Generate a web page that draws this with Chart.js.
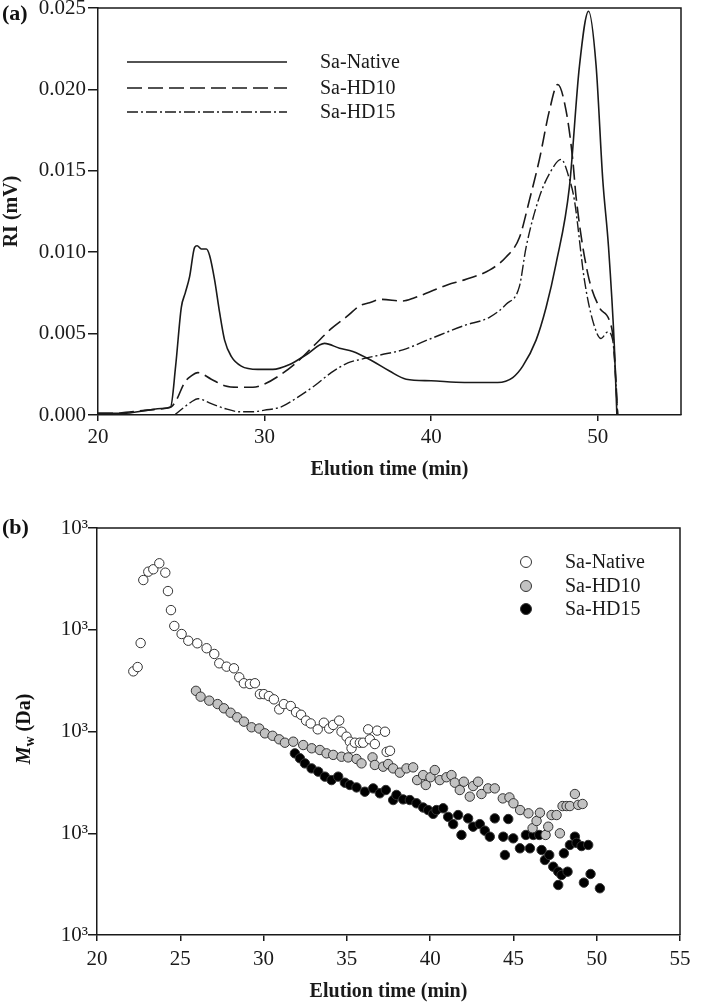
<!DOCTYPE html>
<html>
<head>
<meta charset="utf-8">
<script src="https://cdn.jsdelivr.net/npm/chart.js@4.4.1/dist/chart.umd.min.js"></script>
<style>
  html,body{margin:0;padding:0;background:#fff;}
  body{width:706px;height:1004px;position:relative;overflow:hidden;font-family:'Liberation Serif','Times New Roman',serif;color:#111;}
  .wrap{position:absolute;left:0;width:706px;}
  .panel{position:absolute;left:2px;font:bold 22px 'Liberation Serif','Times New Roman',serif;line-height:24px;}
  #ytb{position:absolute;left:25px;top:729px;transform:translate(-50%,-50%) rotate(-90deg);white-space:nowrap;font:bold 20px 'Liberation Serif','Times New Roman',serif;}
  #ytb sub{font-size:14px;vertical-align:-4px;}
</style>
</head>
<body>
<div class="wrap" style="top:0;height:490px;"><canvas id="ca"></canvas></div>
<div class="wrap" style="top:490px;height:514px;"><canvas id="cb"></canvas></div>
<div class="panel" style="top:1px;">(a)</div>
<div class="panel" style="top:515px;">(b)</div>
<div id="ytb"><i>M</i><sub>w</sub> (Da)</div>
<script>
// ---------- Panel (a): RI chromatograms ----------
const seriesNamesA = ['Sa-Native', 'Sa-HD10', 'Sa-HD15'];
const xTicksA = [20, 30, 40, 50];
const yTicksA = [0, 0.005, 0.010, 0.015, 0.020, 0.025];

const timeNative = [20, 21.5, 23, 23.8, 24.36, 24.66, 25.0, 25.24, 25.5, 25.8, 25.95, 26.2, 26.5, 26.7, 27.0, 27.3, 27.6, 28.0, 28.6, 29.6, 30.5, 31.5, 32.5, 33.6, 34.5, 35.3, 36.5, 37.5, 38.5, 40, 42, 44, 44.9, 45.5, 46.3, 46.9, 47.5, 48.3, 48.9, 49.45, 49.9, 50.3, 50.65, 51.0, 51.15];
const riNative   = [0.0001, 0.0001, 0.0003, 0.0004, 0.0005, 0.0030, 0.0066, 0.0075, 0.0085, 0.0103, 0.0104, 0.0102, 0.0102, 0.0098, 0.0083, 0.0063, 0.0046, 0.0036, 0.0030, 0.0028, 0.0028, 0.0031, 0.0037, 0.0044, 0.0041, 0.0039, 0.0033, 0.0027, 0.0022, 0.0021, 0.0020, 0.0020, 0.0023, 0.0030, 0.0046, 0.0066, 0.0093, 0.0140, 0.0214, 0.0248, 0.0215, 0.0145, 0.0103, 0.0042, 0.0000];

const timeHD10 = [20, 21, 22, 23, 24, 24.4, 24.7, 25.2, 25.6, 26.0, 26.8, 27.6, 28.5, 29.3, 30.0, 31.0, 32.0, 33.0, 34.0, 35.0, 35.7, 36.3, 37.0, 38.3, 39.0, 40.0, 41.0, 42.0, 43.5, 44.5, 45.3, 45.9, 46.5, 47.1, 47.6, 48.1, 48.5, 48.7, 49.4, 50.1, 50.7, 50.95, 51.2];
const riHD10   = [0.0001, 0.0001, 0.0002, 0.0003, 0.0004, 0.0005, 0.0009, 0.0020, 0.0024, 0.0026, 0.0022, 0.0018, 0.0017, 0.0017, 0.0019, 0.0025, 0.0033, 0.0043, 0.0053, 0.0061, 0.0067, 0.0069, 0.0071, 0.0070, 0.0072, 0.0076, 0.0080, 0.0083, 0.0089, 0.0097, 0.0109, 0.0132, 0.0157, 0.0187, 0.0203, 0.0187, 0.0157, 0.0134, 0.0087, 0.0066, 0.0058, 0.0045, 0.0000];

const timeHD15 = [24.6, 25.2, 25.6, 26.0, 26.8, 27.6, 28.5, 29.3, 30.0, 31.0, 32.0, 33.0, 34.0, 35.0, 35.7, 37.0, 38.3, 40.0, 42.0, 43.5, 44.5, 45.3, 45.7, 46.5, 47.2, 47.8, 48.3, 48.6, 49.2, 49.7, 50.2, 50.6, 50.9, 51.2];
const riHD15   = [0.0000, 0.0005, 0.0008, 0.0010, 0.0007, 0.0004, 0.0002, 0.0002, 0.0003, 0.0005, 0.0011, 0.0018, 0.0026, 0.0032, 0.0034, 0.0037, 0.0040, 0.0047, 0.0055, 0.0060, 0.0068, 0.0079, 0.0103, 0.0134, 0.0150, 0.0157, 0.0145, 0.0132, 0.0083, 0.0058, 0.0047, 0.0051, 0.0046, 0.0000];

// ---------- Panel (b): Mw vs elution time ----------
const seriesNamesB = ['Sa-Native', 'Sa-HD10', 'Sa-HD15'];
const xTicksB = [20, 25, 30, 35, 40, 45, 50, 55];
const yTicksB = [1e3, 1e4, 1e5, 1e6, 1e7];
const yTickLabelsB = ['10³', '10³', '10³', '10³', '10³'];

const mwTimeNative = [22.18, 22.44, 22.62, 22.78, 23.08, 23.38, 23.74, 24.10, 24.26, 24.44, 24.64, 25.08, 25.48, 26.02, 26.58, 27.04, 27.34, 27.78, 28.22, 28.54, 28.82, 29.18, 29.48, 29.78, 30.02, 30.32, 30.62, 30.94, 31.22, 31.63, 31.95, 32.25, 32.55, 32.83, 33.25, 33.62, 33.94, 34.18, 34.54, 34.68, 34.98, 35.18, 35.28, 35.48, 35.78, 35.98, 36.28, 36.38, 36.68, 36.82, 37.29, 37.39, 37.59];
const mwNative     = [390000, 430000, 740000, 3080000, 3720000, 3930000, 4500000, 3640000, 2400000, 1560000, 1090000, 908000, 780000, 736000, 658000, 578000, 468000, 434000, 418000, 341000, 298000, 293000, 298000, 233000, 233000, 223000, 207000, 165000, 186000, 178000, 155000, 146000, 128000, 120000, 105000, 122000, 107000, 116000, 128000, 99500, 89000, 79400, 68400, 77600, 77600, 77600, 105000, 83800, 75300, 102000, 99500, 63100, 64600];

const mwTimeHD10 = [25.94, 26.22, 26.74, 27.24, 27.62, 28.02, 28.42, 28.82, 29.28, 29.74, 30.08, 30.54, 30.94, 31.28, 31.78, 32.38, 32.89, 33.38, 33.78, 34.18, 34.68, 35.08, 35.58, 35.88, 36.54, 36.68, 37.18, 37.48, 37.78, 38.18, 38.58, 38.98, 39.22, 39.58, 39.74, 40.02, 40.28, 40.58, 40.98, 41.28, 41.48, 41.78, 42.02, 42.38, 42.58, 42.88, 43.08, 43.48, 43.88, 44.36, 44.76, 45.0, 45.4, 45.9, 46.15, 46.39, 46.59, 46.93, 47.09, 47.29, 47.59, 47.79, 47.95, 48.19, 48.39, 48.69, 48.89, 49.15];
const mwHD10     = [251000, 220000, 201000, 186000, 169000, 153000, 138000, 125000, 110000, 107000, 95900, 90800, 83800, 77600, 79400, 73600, 68400, 65800, 61000, 58900, 56500, 55600, 53700, 48600, 55700, 46900, 45100, 47900, 43400, 39400, 43400, 44400, 33300, 37300, 29800, 35500, 41800, 33300, 35500, 37300, 31400, 26600, 32100, 22900, 29100, 32100, 24300, 27600, 27600, 22000, 22500, 19700, 16900, 15700, 11200, 13200, 15900, 9620, 11600, 15100, 15100, 9980, 18500, 18500, 18500, 24300, 19000, 19400];

const mwTimeHD15 = [31.88, 32.18, 32.48, 32.88, 33.28, 33.68, 34.08, 34.48, 34.88, 35.18, 35.58, 36.08, 36.58, 36.98, 37.34, 37.78, 37.98, 38.38, 38.78, 39.18, 39.58, 39.88, 40.18, 40.38, 40.78, 41.08, 41.38, 41.68, 41.88, 42.28, 42.58, 42.98, 43.28, 43.58, 43.88, 44.39, 44.49, 44.69, 44.99, 45.39, 45.75, 45.99, 46.19, 46.55, 46.69, 46.89, 47.15, 47.39, 47.69, 47.69, 47.89, 48.03, 48.25, 48.39, 48.69, 48.79, 49.09, 49.23, 49.49, 49.63, 50.19];
const mwHD15     = [61000, 54600, 48600, 43400, 40300, 36000, 33300, 36000, 31400, 29800, 28200, 25600, 27600, 24700, 26600, 21200, 23800, 21500, 21200, 19700, 17900, 16900, 15500, 16900, 17600, 14500, 12300, 15100, 9620, 14000, 11600, 12300, 10600, 9250, 14000, 9250, 6110, 13800, 8910, 7110, 9620, 7110, 9620, 9620, 6840, 5460, 6110, 4690, 4190, 3100, 3890, 6350, 4190, 7670, 9250, 8050, 7480, 3270, 7670, 3980, 2880];

// ---------- helpers ----------
const SERIF = "'Liberation Serif','Times New Roman',serif";
const INK = '#1a1a1a';
const zip = (xs, ys) => xs.map((x, i) => ({x: x, y: ys[i]}));

const framePlugin = {
  id: 'frame',
  afterDraw(c) {
    const {ctx, chartArea: a} = c;
    ctx.save();
    ctx.strokeStyle = INK; ctx.lineWidth = 1.5;
    ctx.beginPath();
    ctx.moveTo(a.left, a.top); ctx.lineTo(a.right, a.top); ctx.lineTo(a.right, a.bottom);
    ctx.stroke();
    ctx.restore();
  }
};

const lineLegend = {
  id: 'lineLegend',
  afterDraw(c, args, o) {
    const ctx = c.ctx;
    ctx.save();
    c.data.datasets.forEach((ds, i) => {
      const y = o.y0 + i * o.dy[i];
      ctx.strokeStyle = ds.borderColor; ctx.lineWidth = ds.borderWidth;
      ctx.setLineDash(ds.borderDash || []);
      ctx.beginPath(); ctx.moveTo(o.x0, y); ctx.lineTo(o.x1, y); ctx.stroke();
      ctx.setLineDash([]);
      ctx.fillStyle = INK; ctx.font = '20px ' + SERIF;
      ctx.textBaseline = 'middle'; ctx.textAlign = 'left';
      ctx.fillText(ds.label, o.tx, y + 1);
    });
    ctx.restore();
  }
};

const dotLegend = {
  id: 'dotLegend',
  afterDraw(c, args, o) {
    const ctx = c.ctx;
    ctx.save();
    c.data.datasets.forEach((ds, i) => {
      const y = o.ys[i];
      ctx.beginPath(); ctx.arc(o.x, y, o.r, 0, Math.PI * 2);
      ctx.fillStyle = ds.backgroundColor; ctx.fill();
      ctx.strokeStyle = ds.borderColor; ctx.lineWidth = 1; ctx.stroke();
      ctx.fillStyle = INK; ctx.font = '20px ' + SERIF;
      ctx.textBaseline = 'middle'; ctx.textAlign = 'left';
      ctx.fillText(ds.label, o.tx, y + 1);
    });
    ctx.restore();
  }
};

function fixAxis(w, h) {
  return function (s) {
    if (w !== null) s.width = w;
    if (h !== null) s.height = h;
    s.paddingTop = 0; s.paddingBottom = 0; s.paddingLeft = 0; s.paddingRight = 0;
  };
}

// ---------- Chart (a) ----------
const lineStyle = [
  {dash: [], width: 1.6},
  {dash: [15, 6], width: 1.6},
  {dash: [11, 3, 2, 3], width: 1.4}
];
const seriesA = [zip(timeNative, riNative), zip(timeHD10, riHD10), zip(timeHD15, riHD15)];

new Chart(document.getElementById('ca'), {
  type: 'line',
  data: {
    datasets: seriesA.map((d, i) => ({
      label: seriesNamesA[i], data: d,
      borderColor: INK, borderWidth: lineStyle[i].width, borderDash: lineStyle[i].dash,
      pointRadius: 0, fill: false, cubicInterpolationMode: 'monotone'
    }))
  },
  options: {
    responsive: true, maintainAspectRatio: false, animation: false,
    layout: {padding: {top: 8, right: 25, left: 0, bottom: 0}},
    plugins: {
      legend: {display: false}, tooltip: {enabled: false},
      lineLegend: {x0: 127, x1: 287, tx: 320, y0: 62, dy: [26, 26, 25]}
    },
    scales: {
      x: {
        type: 'linear', min: 20, max: 55,
        afterBuildTicks: s => { s.ticks = xTicksA.map(v => ({value: v})); },
        afterFit: fixAxis(null, 75),
        border: {display: true, color: INK, width: 1.5},
        grid: {drawOnChartArea: false, drawTicks: true, tickLength: 6, color: INK, lineWidth: 1.5},
        ticks: {color: INK, font: {family: SERIF, size: 21}, padding: 4, maxRotation: 0},
        title: {display: true, text: 'Elution time (min)', color: INK, font: {family: SERIF, size: 20, weight: 'bold', lineHeight: 1.2}, padding: {top: 0, bottom: 8}}
      },
      y: {
        type: 'linear', min: 0, max: 0.025,
        afterBuildTicks: s => { s.ticks = yTicksA.map(v => ({value: v})); },
        afterFit: fixAxis(98, null),
        border: {display: true, color: INK, width: 1.5},
        grid: {drawOnChartArea: false, drawTicks: true, tickLength: 10, color: INK, lineWidth: 1.5},
        ticks: {color: INK, font: {family: SERIF, size: 21}, padding: 2, callback: v => Number(v).toFixed(3)},
        title: {display: true, text: 'RI (mV)', color: INK, font: {family: SERIF, size: 20, weight: 'bold', lineHeight: 1.2}, padding: {top: 0, bottom: 0}}
      }
    }
  },
  plugins: [framePlugin, lineLegend]
});

// ---------- Chart (b) ----------
const fills = ['#ffffff', '#c2c2c2', '#000000'];
const seriesB = [zip(mwTimeNative, mwNative), zip(mwTimeHD10, mwHD10), zip(mwTimeHD15, mwHD15)];

new Chart(document.getElementById('cb'), {
  type: 'scatter',
  data: {
    datasets: seriesB.map((d, i) => ({
      label: seriesNamesB[i], data: d,
      backgroundColor: fills[i], borderColor: '#333333', borderWidth: 1,
      pointRadius: 4.7, pointHoverRadius: 4.7
    }))
  },
  options: {
    responsive: true, maintainAspectRatio: false, animation: false,
    layout: {padding: {top: 38, right: 26, left: 0, bottom: 0}},
    plugins: {
      legend: {display: false}, tooltip: {enabled: false},
      dotLegend: {x: 526, r: 5.5, tx: 565, ys: [72, 96, 119]}
    },
    scales: {
      x: {
        type: 'linear', min: 20, max: 55,
        afterBuildTicks: s => { s.ticks = xTicksB.map(v => ({value: v})); },
        afterFit: fixAxis(null, 69),
        border: {display: true, color: INK, width: 1.5},
        grid: {drawOnChartArea: false, drawTicks: true, tickLength: 6, color: INK, lineWidth: 1.5},
        ticks: {color: INK, font: {family: SERIF, size: 21}, padding: 6, maxRotation: 0},
        title: {display: true, text: 'Elution time (min)', color: INK, font: {family: SERIF, size: 20, weight: 'bold', lineHeight: 1.2}, padding: {top: 0, bottom: 0}}
      },
      y: {
        type: 'logarithmic', min: 1e3, max: 1e7,
        afterBuildTicks: s => { s.ticks = yTicksB.map(v => ({value: v})); },
        afterFit: fixAxis(97, null),
        border: {display: true, color: INK, width: 1.5},
        grid: {drawOnChartArea: false, drawTicks: true, tickLength: 9, color: INK, lineWidth: 1.5},
        ticks: {color: INK, font: {family: SERIF, size: 21}, padding: 0, callback: (v, i) => yTickLabelsB[i]}
      }
    }
  },
  plugins: [framePlugin, dotLegend]
});
</script>
</body>
</html>
